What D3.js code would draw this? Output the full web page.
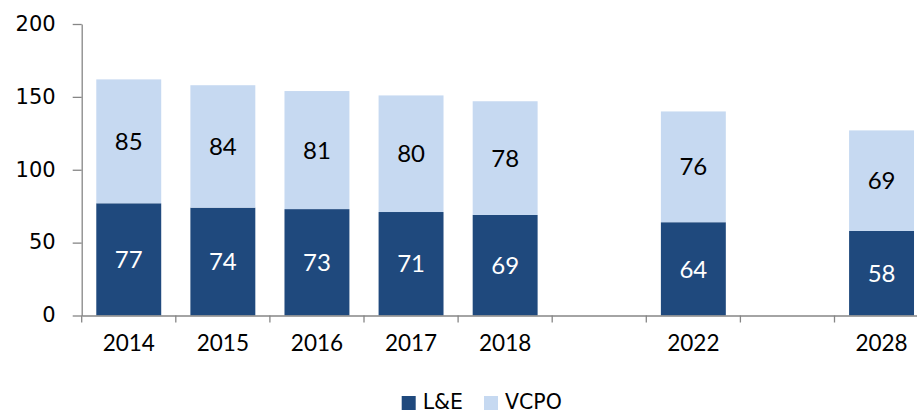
<!DOCTYPE html>
<html>
<head>
  <meta charset="utf-8">
  <title>L&amp;E and VCPO</title>
  <style>
    body { margin: 0; background: #fff; }
    svg { display: block; }
  </style>
</head>
<body>
  <script src="https://cdn.jsdelivr.net/npm/d3@7"></script>
  <script>
    // data
    var slotLabels = ["2014", "2015", "2016", "2017", "2018", "", "2022", "", "2028"];
    var years = ["2014", "2015", "2016", "2017", "2018", "2022", "2028"];
    var leValues = [77, 74, 73, 71, 69, 64, 58];
    var vcpoValues = [85, 84, 81, 80, 78, 76, 69];
    var yTicks = [0, 50, 100, 150, 200];
    var seriesNames = ["L&E", "VCPO"];
    var seriesColors = ["#1f497d", "#c6d9f1"];

    // plot area (right side runs past the window edge, as in the original)
    var width = 917, height = 415;
    var plotLeft = 81.7, plotRight = 928.6, plotTop = 24, plotBottom = 315.5;

    var svg = d3.select("body").append("svg")
      .attr("width", width)
      .attr("height", height);

    // scales
    var x = d3.scaleBand()
      .domain(d3.range(slotLabels.length))
      .range([plotLeft, plotRight])
      .paddingInner(0.31)
      .paddingOuter(0.155);
    var y = d3.scaleLinear().domain([0, 200]).range([plotBottom, plotTop]);

    var rows = years.map(function (yr, i) {
      return { year: yr, slot: slotLabels.indexOf(yr), le: leValues[i], vcpo: vcpoValues[i] };
    });

    // bars
    var g = svg.append("g");
    g.selectAll(".le").data(rows).enter().append("rect")
      .attr("x", function (d) { return x(d.slot); })
      .attr("width", x.bandwidth())
      .attr("y", function (d) { return y(d.le); })
      .attr("height", function (d) { return y(0) - y(d.le); })
      .attr("fill", seriesColors[0]);
    g.selectAll(".vcpo").data(rows).enter().append("rect")
      .attr("x", function (d) { return x(d.slot); })
      .attr("width", x.bandwidth())
      .attr("y", function (d) { return y(d.le + d.vcpo); })
      .attr("height", function (d) { return y(d.le) - y(d.le + d.vcpo); })
      .attr("fill", seriesColors[1]);

    // value labels
    g.selectAll(".lelab").data(rows).enter().append("text")
      .attr("x", function (d) { return x(d.slot) + x.bandwidth() / 2; })
      .attr("y", function (d) { return (y(0) + y(d.le)) / 2; })
      .attr("dy", "0.36em")
      .attr("text-anchor", "middle")
      .attr("fill", "#fff")
      .style("font", "24px Lato")
      .text(function (d) { return d.le; });
    g.selectAll(".vclab").data(rows).enter().append("text")
      .attr("x", function (d) { return x(d.slot) + x.bandwidth() / 2; })
      .attr("y", function (d) { return (y(d.le) + y(d.le + d.vcpo)) / 2; })
      .attr("dy", "0.36em")
      .attr("text-anchor", "middle")
      .attr("fill", "#000")
      .style("font", "24px Lato")
      .text(function (d) { return d.vcpo; });

    // y axis
    var yAxis = svg.append("g")
      .attr("transform", "translate(" + plotLeft + ",0)")
      .call(d3.axisLeft(y).tickValues(yTicks).tickSize(9).tickSizeOuter(0).tickPadding(17));
    yAxis.selectAll("line, path").attr("stroke", "#868686").attr("stroke-width", 1.3);
    yAxis.selectAll("text")
      .attr("dy", "0.3em")
      .style("font", "21px 'DejaVu Sans'")
      .attr("fill", "#000");

    // x axis: labels under band centres, ticks on band edges
    var xAxis = svg.append("g")
      .attr("transform", "translate(0," + plotBottom + ")")
      .call(d3.axisBottom(x).tickSize(0).tickSizeOuter(0).tickPadding(27)
        .tickFormat(function (i) { return slotLabels[i]; }));
    xAxis.select("path").attr("stroke", "#868686").attr("stroke-width", 1.3);
    xAxis.selectAll("text").attr("dy", "0.36em").style("font", "22.5px Lato").attr("fill", "#000");
    xAxis.selectAll(".edge").data(d3.range(slotLabels.length + 1)).enter().append("line")
      .attr("x1", function (i) { return plotLeft + i * x.step(); })
      .attr("x2", function (i) { return plotLeft + i * x.step(); })
      .attr("y1", 0).attr("y2", 7)
      .attr("stroke", "#868686").attr("stroke-width", 1.3);

    // legend
    var legend = svg.append("g");
    var lx = [401.7, 484];
    seriesNames.forEach(function (name, i) {
      legend.append("rect")
        .attr("x", lx[i]).attr("y", 396)
        .attr("width", 14).attr("height", 14)
        .attr("fill", seriesColors[i]);
      legend.append("text")
        .attr("x", lx[i] + 21).attr("y", 409)
        .style("font", "20.5px 'DejaVu Sans'")
        .text(name);
    });
  </script>
</body>
</html>
